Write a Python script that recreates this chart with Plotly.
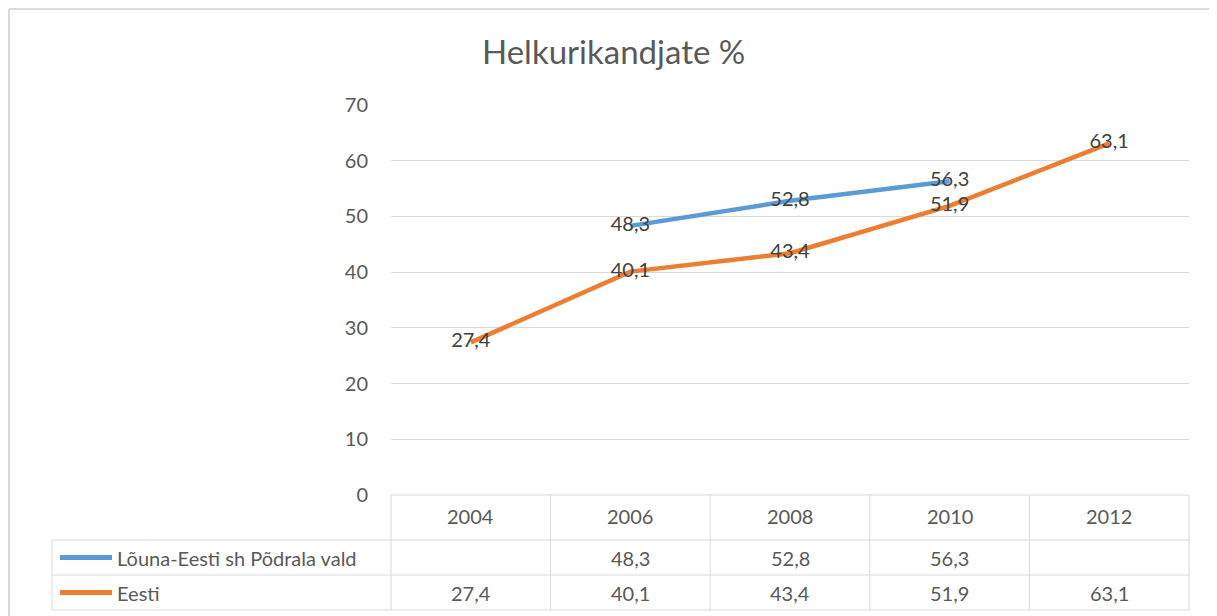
import plotly.graph_objects as go

years = ["2004", "2006", "2008", "2010", "2012"]
series_names = ["Lõuna-Eesti sh Põdrala vald", "Eesti"]
louna = [None, 48.3, 52.8, 56.3, None]
eesti = [27.4, 40.1, 43.4, 51.9, 63.1]
colors = ["#5B9BD5", "#ED7D31"]
title = "Helkurikandjate %"

OFF = 8  # page body margin
W, H = 1217 - OFF, 616 - OFF
# reference pixel positions (page coords), converted below
RL, RR, RT, RB = 391, 1189, 105, 495
L, R, T, B = RL - OFF, RR - OFF, RT - OFF, RB - OFF
FONT = "Lato, Open Sans, sans-serif"
FS = 20
GRID = "#D9D9D9"
TXT = "#595959"

def px(x):
    return (x - OFF - L) / (R - L)

def py(y):
    return (B - (y - OFF)) / (B - T)

def fmt(v):
    return "" if v is None else f"{v:.1f}".replace(".", ",")

xs = list(range(len(years)))
fig = go.Figure()
for name, vals, col in zip(series_names, [louna, eesti], colors):
    fig.add_trace(go.Scatter(
        x=xs, y=vals, name=name, mode="lines+text",
        line=dict(color=col, width=4.5),
        text=[fmt(v) for v in vals], textposition="middle center",
        textfont=dict(family=FONT, size=FS, color="#404040"),
        connectgaps=False, showlegend=False, cliponaxis=False,
    ))

shapes = []
line = dict(color=GRID, width=1)
# outer chart border (left and top edges)
shapes.append(dict(type="line", xref="paper", yref="paper", x0=px(9), x1=px(9), y0=py(616), y1=py(9),
                   line=dict(color=GRID, width=2)))
shapes.append(dict(type="line", xref="paper", yref="paper", x0=px(9), x1=px(1217), y0=py(9), y1=py(9),
                   line=dict(color=GRID, width=2)))
# table
row_y = [495, 540, 575, 610]
col_x = [RL + i * (RR - RL) / len(years) for i in range(len(years) + 1)]
shapes.append(dict(type="line", xref="paper", yref="paper", x0=px(RL), x1=px(RR), y0=py(495), y1=py(495), line=line))
for yy in row_y[1:]:
    shapes.append(dict(type="line", xref="paper", yref="paper", x0=px(52), x1=px(RR), y0=py(yy), y1=py(yy), line=line))
for xx in col_x:
    shapes.append(dict(type="line", xref="paper", yref="paper", x0=px(xx), x1=px(xx), y0=py(495), y1=py(610), line=line))
shapes.append(dict(type="line", xref="paper", yref="paper", x0=px(52), x1=px(52), y0=py(540), y1=py(610), line=line))

annotations = []
for i, yr in enumerate(years):
    cx = (col_x[i] + col_x[i + 1]) / 2
    annotations.append(dict(x=px(cx), y=py(516), xref="paper", yref="paper", text=yr, showarrow=False,
                            font=dict(family=FONT, size=FS, color=TXT), xanchor="center", yanchor="middle"))
for r, (name, vals, col) in enumerate(zip(series_names, [louna, eesti], colors)):
    cy = (row_y[r + 1] + row_y[r + 2]) / 2
    shapes.append(dict(type="line", xref="paper", yref="paper", x0=px(60), x1=px(112), y0=py(cy), y1=py(cy),
                       line=dict(color=col, width=5)))
    annotations.append(dict(x=px(115), y=py(cy), xref="paper", yref="paper", text=name, showarrow=False,
                            font=dict(family=FONT, size=FS, color=TXT), xanchor="left", yanchor="middle"))
    for i, v in enumerate(vals):
        cx = (col_x[i] + col_x[i + 1]) / 2
        annotations.append(dict(x=px(cx), y=py(cy), xref="paper", yref="paper", text=fmt(v), showarrow=False,
                                font=dict(family=FONT, size=FS, color=TXT), xanchor="center", yanchor="middle"))

annotations.append(dict(x=px(613), y=py(51), xref="paper", yref="paper", text=title, showarrow=False,
                        font=dict(family=FONT, size=33, color=TXT), xanchor="center", yanchor="middle"))

fig.update_layout(
    width=W, height=H, autosize=False,
    margin=dict(l=L, r=W - R, t=T, b=H - B, pad=0),
    paper_bgcolor="white", plot_bgcolor="white",
    shapes=shapes, annotations=annotations, showlegend=False,
    xaxis=dict(range=[-0.5, len(years) - 0.5], showticklabels=False, showgrid=False, zeroline=False, showline=False, fixedrange=True),
    yaxis=dict(range=[0, 70], dtick=10, tick0=0, showgrid=True, gridcolor=GRID, gridwidth=1, zeroline=False, showline=False,
               ticks="", ticklabelstandoff=22,
               tickfont=dict(family=FONT, size=FS, color=TXT)),
)
fig.write_html("out.html")
